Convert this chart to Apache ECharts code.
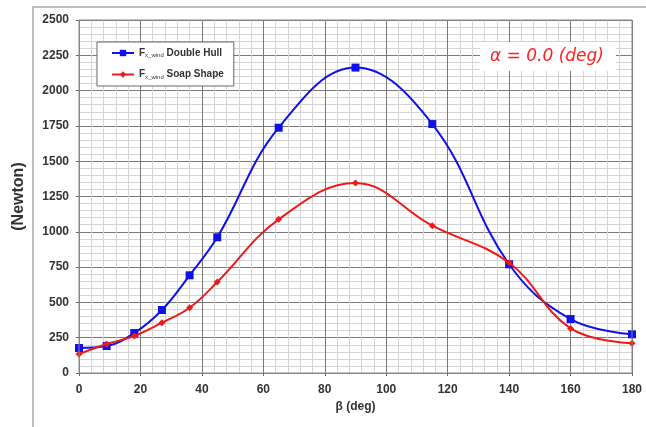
<!DOCTYPE html>
<html>
<head>
<meta charset="utf-8">
<script src="https://cdn.jsdelivr.net/npm/echarts@6/dist/echarts.min.js"></script>
<style>
  html, body { margin: 0; padding: 0; background: #fff; }
  #chart { width: 646px; height: 427px; }
</style>
</head>
<body>
<div id="chart"></div>
<script>
  // beta angles (deg)
  const betaDeg = [0, 9, 18, 27, 36, 45, 65, 90, 115, 140, 160, 180];
  // Fx wind force (Newton)
  const doubleHull = [177, 191, 283, 446, 692, 961, 1737, 2163, 1763, 770, 382, 274];
  const soapShape = [134, 205, 262, 356, 462, 644, 1088, 1345, 1043, 781, 316, 210];

  const toPairs = (ys) => ys.map((y, i) => [betaDeg[i], y]);

  const myChart = echarts.init(document.getElementById('chart'));
  const labelFont = 'Liberation Sans';

  const option = {
    backgroundColor: '#fff',
    animation: false,
    grid: { left: 79, right: 14, top: 20, bottom: 54 },
    legend: {
      orient: 'vertical',
      left: 97,
      top: 42,
      padding: [6, 10, 6, 14],
      itemGap: 11,
      itemWidth: 22,
      itemHeight: 8,
      backgroundColor: '#fff',
      borderColor: '#666',
      borderWidth: 1,
      data: ['Double Hull', 'Soap Shape'],
      formatter: function (name) {
        return '{f|F}{s|x_wind}{n| ' + name + '}';
      },
      textStyle: {
        rich: {
          f: { fontFamily: labelFont, fontSize: 10, fontWeight: 'bold', color: '#333' },
          s: { fontFamily: labelFont, fontSize: 6, color: '#333', verticalAlign: 'bottom', padding: [5, 0, 0, 0] },
          n: { fontFamily: labelFont, fontSize: 10, fontWeight: 'bold', color: '#333' }
        }
      }
    },
    xAxis: {
      type: 'value',
      min: 0,
      max: 180,
      interval: 20,
      name: 'β (deg)',
      nameLocation: 'middle',
      nameGap: 28,
      nameTextStyle: { fontFamily: labelFont, fontSize: 12, fontWeight: 'bold', color: '#333' },
      axisLine: { show: true, lineStyle: { color: '#888', width: 1 } },
      axisTick: { show: true, length: 3, lineStyle: { color: '#666' } },
      axisLabel: { fontFamily: labelFont, fontSize: 12, fontWeight: 'bold', color: '#333', margin: 11 },
      splitLine: { show: true, lineStyle: { color: '#7a7a7a', width: 1 } },
      minorTick: { show: false, splitNumber: 5 },
      minorSplitLine: { show: true, lineStyle: { color: '#d4d4d4', width: 1 } }
    },
    yAxis: {
      type: 'value',
      min: 0,
      max: 2500,
      interval: 250,
      name: '(Newton)',
      nameLocation: 'middle',
      nameGap: 52,
      nameTextStyle: { fontFamily: labelFont, fontSize: 16, fontWeight: 'bold', color: '#333' },
      axisLine: { show: true, lineStyle: { color: '#888', width: 1 } },
      axisTick: { show: true, length: 3, lineStyle: { color: '#666' } },
      axisLabel: {
        fontFamily: labelFont, fontSize: 12, fontWeight: 'bold', color: '#333', margin: 10,
        formatter: (v) => String(v)
      },
      splitLine: { show: true, lineStyle: { color: '#7a7a7a', width: 1 } },
      minorTick: { show: false, splitNumber: 5 },
      minorSplitLine: { show: true, lineStyle: { color: '#d4d4d4', width: 1 } }
    },
    graphic: [
      {
        type: 'rect',
        z: -1,
        shape: { x: 33, y: 7, width: 700, height: 500 },
        style: { fill: 'none', stroke: '#aaa', lineWidth: 1.5 }
      },
      {
        type: 'rect',
        shape: { x: 79, y: 20, width: 553, height: 353 },
        style: { fill: 'none', stroke: '#888', lineWidth: 1 },
        z: 5
      },
      {
        type: 'text',
        left: 480,
        top: 42,
        z: 10,
        style: {
          text: 'α = 0.0 (deg)',
          fontFamily: 'DejaVu Sans',
          fontSize: 17,
          fontStyle: 'italic',
          fill: '#ff2020',
          backgroundColor: '#fff',
          padding: [6, 12, 6, 10]
        }
      }
    ],
    series: [
      {
        name: 'Double Hull',
        type: 'line',
        smooth: 0.4,
        data: toPairs(doubleHull),
        symbol: 'rect',
        symbolSize: 8,
        z: 3,
        lineStyle: { color: '#1010e8', width: 2 },
        itemStyle: { color: '#1010e8' }
      },
      {
        name: 'Soap Shape',
        type: 'line',
        smooth: 0.4,
        data: toPairs(soapShape),
        symbol: 'diamond',
        symbolSize: 7,
        z: 4,
        lineStyle: { color: '#f01818', width: 2 },
        itemStyle: { color: '#f01818' }
      }
    ]
  };

  myChart.setOption(option);
</script>
</body>
</html>
